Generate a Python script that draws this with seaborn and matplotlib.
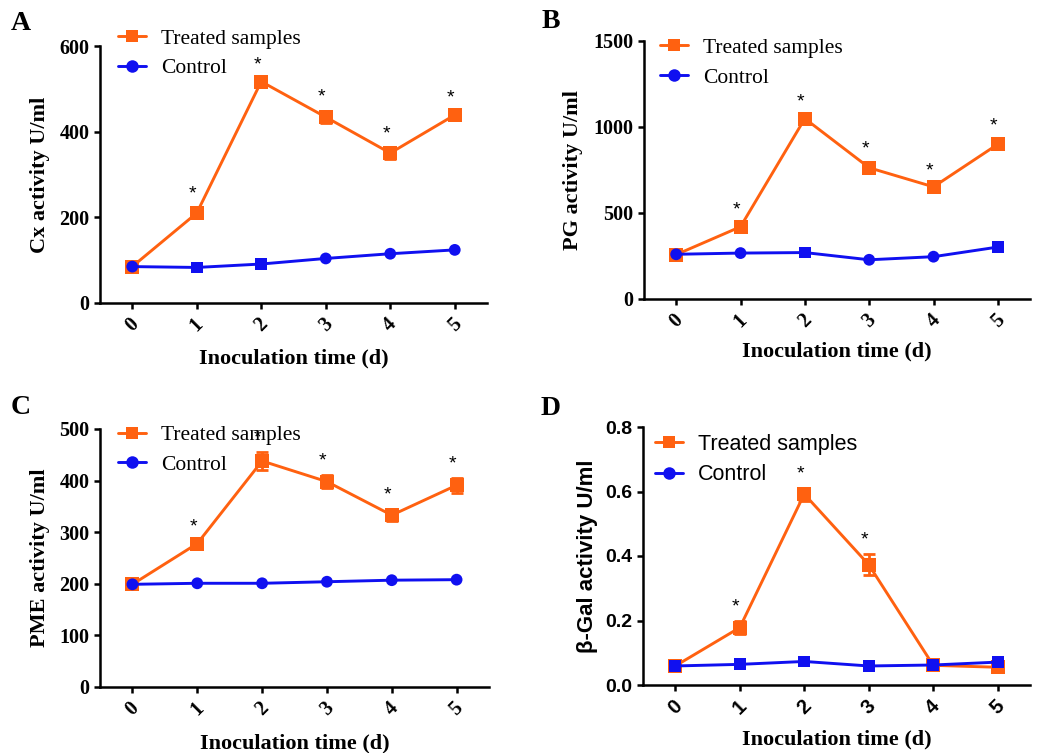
import matplotlib
matplotlib.use('Agg')
import matplotlib.pyplot as plt
from matplotlib.lines import Line2D
import pandas as pd
import seaborn as sns

# Inoculation days
days = [0, 1, 2, 3, 4, 5]

# A - Cx
cx_treated = [85, 210, 517, 434, 350, 439]
cx_treated_err = [6, 12, 6, 14, 13, 8]
cx_control = [85, 83, 91, 104, 115, 124]
cx_stars = [1, 2, 3, 4, 5]

# B - PG
pg_treated = [258, 420, 1049, 763, 652, 900]
pg_treated_err = [10, 14, 18, 28, 12, 25]
pg_control = [260, 267, 270, 228, 246, 302]
pg_stars = [1, 2, 3, 4, 5]

# C - PME
pme_treated = [199, 278, 438, 398, 333, 391]
pme_treated_err = [5, 5, 17, 13, 12, 15]
pme_control = [199, 201, 201, 204, 207, 208]
pme_stars = [1, 2, 3, 4, 5]

# D - beta-Gal
gal_treated = [0.059, 0.178, 0.592, 0.373, 0.061, 0.055]
gal_treated_err = [0.004, 0.02, 0.02, 0.033, 0.005, 0.005]
gal_control = [0.059, 0.064, 0.073, 0.059, 0.062, 0.071]
gal_stars = [1, 2, 3]

ORANGE = '#FF6110'
BLUE = '#1010F0'

sns.set_style('ticks')
plt.rcParams['font.family'] = ['Liberation Serif', 'DejaVu Serif']
plt.rcParams['axes.linewidth'] = 1.8
plt.rcParams['xtick.major.width'] = 1.8
plt.rcParams['ytick.major.width'] = 1.8
plt.rcParams['xtick.major.size'] = 4
plt.rcParams['ytick.major.size'] = 4
plt.rcParams['xtick.color'] = 'black'
plt.rcParams['ytick.color'] = 'black'
plt.rcParams['axes.edgecolor'] = 'black'
plt.rcParams['text.color'] = 'black'
plt.rcParams['axes.labelcolor'] = 'black'

SANS = ['Liberation Sans', 'DejaVu Sans']
SERIF = ['Liberation Serif', 'DejaVu Serif']


def draw_panel(ax, treated, t_err, control, c_markers, stars, ylim, yticks,
               ylabel, legend_xy, ylabel_x, xlabel_y, sans=False):
    df = pd.DataFrame({'day': days, 'treated': treated, 'control': control,
                       'marker': c_markers})

    ax.errorbar(days, treated, yerr=t_err, fmt='none', ecolor=ORANGE,
                elinewidth=2, capsize=4.5, capthick=2, zorder=2)
    sns.lineplot(data=df, x='day', y='treated', color=ORANGE, marker='s',
                 markersize=9.5, markeredgewidth=0, linewidth=2.1, ax=ax, zorder=3)
    sns.lineplot(data=df, x='day', y='control', color=BLUE, linewidth=2.1,
                 ax=ax, zorder=4)
    sns.scatterplot(data=df, x='day', y='control', style='marker',
                    markers={'o': 'o', 's': 's'}, color=BLUE, s=72,
                    linewidth=0, legend=False, ax=ax, zorder=5)

    # significance stars
    for d in stars:
        ax.annotate('*', xy=(d, treated[d] + t_err[d]), xytext=(-3, 10),
                    textcoords='offset points', ha='center', va='center',
                    fontsize=14, family=SANS, color='black')

    ax.set_xlim(-0.5, 5.5)
    ax.set_ylim(*ylim)
    ax.set_yticks(yticks)
    ax.set_xticks(days)
    sns.despine(ax=ax)

    tick_family = SANS if sans else SERIF
    for lab in ax.get_yticklabels():
        lab.set_family(tick_family)
        lab.set_fontweight('bold')
        lab.set_fontsize(14.5)
    for lab in ax.get_xticklabels():
        lab.set_family(tick_family)
        lab.set_fontweight('bold')
        lab.set_fontsize(14.5)
        lab.set_rotation(45)
        lab.set_ha('center')
        lab.set_va('center')
    ax.tick_params(axis='x', pad=12)

    ax.set_ylabel(ylabel, fontsize=16, fontweight='bold', family=tick_family)
    ax.yaxis.set_label_coords(ylabel_x, 0.5)
    ax.yaxis.label.set_va('center')
    ax.set_xlabel('Inoculation time (d)', fontsize=16, fontweight='bold',
                  family=SERIF)
    ax.xaxis.set_label_coords(0.5, xlabel_y)
    ax.xaxis.label.set_va('center')

    handles = [
        Line2D([], [], color=ORANGE, marker='s', markersize=9, lw=2.1,
               markeredgewidth=0),
        Line2D([], [], color=BLUE, marker='o', markersize=9, lw=2.1,
               markeredgewidth=0),
    ]
    ax.legend(handles, ['Treated samples', 'Control'], loc='center left',
              bbox_to_anchor=legend_xy, frameon=False, borderpad=0,
              borderaxespad=0, handlelength=1.3, handletextpad=0.7,
              labelspacing=0.45,
              prop={'family': SANS if sans else SERIF, 'size': 15.5})


fig = plt.figure(figsize=(10.39, 7.53), dpi=100)
W, H = 1039, 753


def make_axes(left, top, right, bottom):
    return fig.add_axes([left / W, 1 - bottom / H, (right - left) / W,
                         (bottom - top) / H])


ax_a = make_axes(100, 46, 487, 303)
ax_b = make_axes(644, 41, 1030, 299)
ax_c = make_axes(100, 429, 489, 687)
ax_d = make_axes(643, 427, 1030, 685)

draw_panel(ax_a, cx_treated, cx_treated_err, cx_control,
           ['o', 's', 's', 'o', 'o', 'o'], cx_stars, (0, 600),
           [0, 200, 400, 600], 'Cx activity U/ml',
           (0.047, 0.971), -60 / 387, -55 / 257)
draw_panel(ax_b, pg_treated, pg_treated_err, pg_control,
           ['o', 'o', 's', 'o', 'o', 's'], pg_stars, (0, 1500),
           [0, 500, 1000, 1500], 'PG activity U/ml',
           (0.041, 0.9155), -71 / 386, -52 / 258)
draw_panel(ax_c, pme_treated, pme_treated_err, pme_control,
           ['o'] * 6, pme_stars, (0, 500),
           [0, 100, 200, 300, 400, 500], 'PME activity U/ml',
           (0.046, 0.9185), -60 / 389, -56 / 258)
draw_panel(ax_d, gal_treated, gal_treated_err, gal_control,
           ['s'] * 6, gal_stars, (0, 0.8),
           [0.0, 0.2, 0.4, 0.6, 0.8], '\u03b2-Gal activity U/ml',
           (0.031, 0.874), -55 / 387, -54 / 258, sans=True)
ax_d.set_yticklabels(['0.0', '0.2', '0.4', '0.6', '0.8'], family=SANS,
                     fontweight='bold', fontsize=14)

for letter, x, y in [('A', 21, 23), ('B', 551, 22), ('C', 21, 408), ('D', 551, 409)]:
    fig.text(x / W, 1 - y / H, letter, fontsize=20, fontweight='bold',
             family=SERIF, ha='center', va='center')

fig.savefig('out.png', dpi=100)
